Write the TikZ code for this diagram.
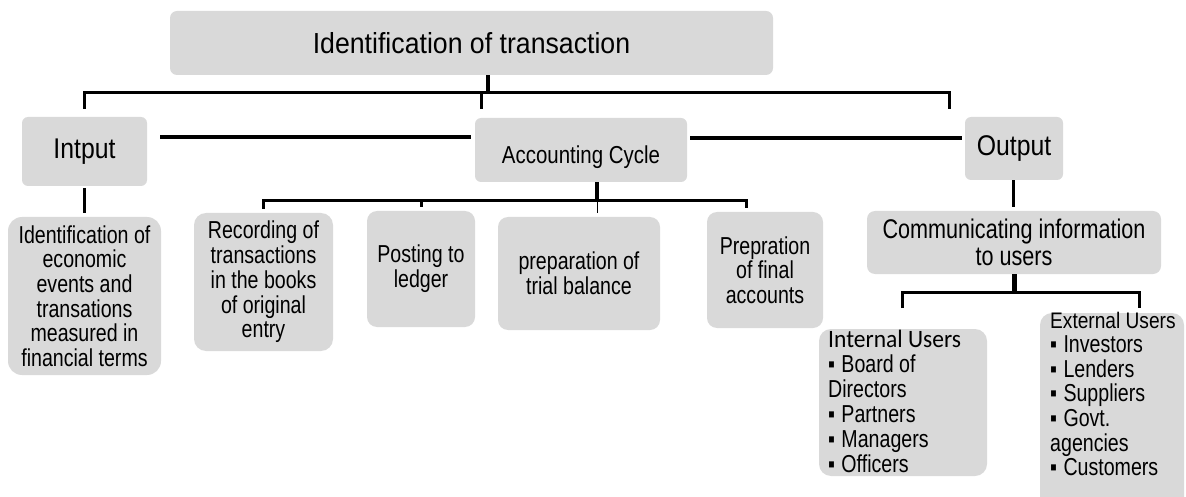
\documentclass[tikz,border=0pt]{standalone}
\usepackage{fontspec}
\setmainfont{Liberation Sans}[FakeStretch=0.8]
\newfontfamily\fN{Liberation Sans}[FakeStretch=0.8]
\newfontfamily\fA{Liberation Sans}[FakeStretch=0.835]
\newfontfamily\fM{Liberation Sans}[FakeStretch=0.87]
\newfontfamily\fT{Liberation Sans}[FakeStretch=0.92]
\newfontfamily\fE{Liberation Sans}[FakeStretch=0.85]
\newfontfamily\calib{Carlito}[FakeStretch=0.94]
\usetikzlibrary{calc}
\definecolor{boxgray}{HTML}{D9D9D9}
\newcommand\bu{▪\hspace{0.26em}}
\begin{document}
\begin{tikzpicture}[x=1pt,y=-1pt,
  box/.style={draw=none, fill=boxgray, rounded corners=#1, inner sep=0pt, align=center, text=black},
  box/.default=6pt,
  small/.style={font={\fN\fontsize{24.5}{24.7}\selectfont}},
  ln/.style={line width=3pt, black},
  lnb/.style={line width=3.5pt, black},
  stub/.style={line width=4.5pt, black},
  thin/.style={line width=1pt, black},
  txt/.style={inner sep=0pt, align=left, anchor=north west, text=black}]
\useasboundingbox (0,0) rectangle (1186,497);
\clip (0,0) rectangle (1186,497);
% boxes
\node[box=7pt, minimum width=603pt, minimum height=64pt, font={\fT\fontsize{29}{32}\selectfont}] (top) at (471.5,43) {Identification of transaction};
\node[box=6pt, minimum width=125pt, minimum height=69pt, font={\fM\fontsize{28.5}{32}\selectfont}] (intput) at (84.5,151.5) {Intput};
\node[box=6pt, minimum width=212pt, minimum height=64pt, font={\fA\fontsize{24.5}{26}\selectfont}, text height=33pt, text depth=5pt] (acc) at (581,150) {Accounting Cycle};
\node[box=6pt, minimum width=98pt, minimum height=63pt, font={\fM\fontsize{28.5}{32}\selectfont}] (output) at (1014,148.5) {Output};
\node[box=14pt, minimum width=153pt, minimum height=158pt, small] (desc) at (84.5,296) {Identification of\\economic\\events and\\transations\\measured in\\financial terms};
\node[box=12pt, minimum width=139pt, minimum height=138pt, small] (rec) at (263.5,282) {Recording of\\transactions\\in the books\\of original\\entry};
\node[box=10pt, minimum width=108pt, minimum height=116pt, small] (post) at (421,269) {Posting to\\ledger};
\node[box=10pt, minimum width=162pt, minimum height=113pt, small] (trial) at (579,273.5) {preparation of\\trial balance};
\node[box=10pt, minimum width=116pt, minimum height=116pt, small] (prep) at (765,270) {Prepration\\of final\\accounts};
\node[box=8pt, minimum width=294pt, minimum height=63pt, font={\fN\fontsize{27}{27}\selectfont}] (comm) at (1014,242.5) {Communicating information\\to users};
\node[box=12pt, minimum width=168pt, minimum height=147pt] (intu) at (903,402.5) {};
\node[box=12pt, minimum width=144pt, minimum height=207pt] (extu) at (1112,416.5) {};
\node[txt, font={\fN\fontsize{24.5}{25}\selectfont}] (intuT) at (828,330) {{\calib\fontsize{25}{25}\selectfont Internal Users}\\\bu Board of\\Directors\\\bu Partners\\\bu Managers\\\bu Officers};
\node[txt, font={\fN\fontsize{24.5}{24.6}\selectfont}] (extuT) at (1050,311.6) {{\fE\fontsize{22.5}{24.6}\selectfont External Users}\\\bu Investors\\\bu Lenders\\\bu Suppliers\\\bu Govt.\\agencies\\\bu Customers};
% junction coordinates
\coordinate (j0) at (488,93);
\coordinate (dL) at (84,109);
\coordinate (dM) at (481,109);
\coordinate (dR) at (949,109);
\coordinate (ia1) at (160,137);
\coordinate (ia2) at (471,137);
\coordinate (ao1) at (690,138);
\coordinate (ao2) at (962,138);
\coordinate (j1) at (597,200.7);
\coordinate (d1) at (263,209);
\coordinate (d2) at (421,207);
\coordinate (d3) at (597,213);
\coordinate (d4) at (746,208);
\coordinate (j2) at (1014.6,292.7);
\coordinate (e1) at (902,308);
\coordinate (e2) at (1139,308);
\coordinate (iu) at (84,213);
\coordinate (ou) at (1013.5,207);
% connectors
\draw[stub] (j0 |- top.south) -- (j0);
\draw[ln] (dL) |- (dR |- j0) -- (dR);
\draw[ln] (dM) -- (dM |- j0);
\draw[lnb] (ia1) -- (ia2);
\draw[lnb] (ao1) -- (ao2);
\draw[ln] (iu |- intput.south) ++(0,2) -- (iu);
\draw[stub] (j1 |- acc.south) -- (j1);
\draw[ln] (d1) |- (d4 |- j1) -- (d4);
\draw[ln] (d2) -- (d2 |- j1);
\draw[thin] (j1) -- (d3);
\draw[ln] (ou |- output.south) -- (ou);
\draw[stub] (j2 |- comm.south) -- (j2);
\draw[ln] (e1) |- (e2 |- j2) -- (e2);
\end{tikzpicture}
\end{document}
